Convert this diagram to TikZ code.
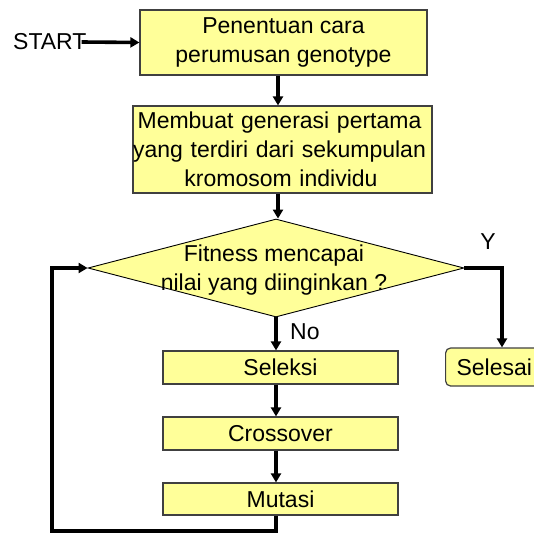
\documentclass[tikz,border=0pt]{standalone}
\usepackage{fontspec}
\setmainfont{Liberation Sans}
\usetikzlibrary{arrows.meta,shapes.geometric}
\definecolor{boxfill}{RGB}{255,255,153}
\begin{document}
\begin{tikzpicture}[x=1pt,y=-1pt,
  every node/.style={font=\fontsize{23}{29}\selectfont},
  box/.style={draw=black!75, line width=1.2pt, fill=boxfill, inner sep=0pt, align=center},
  arr/.style={line width=3.6pt, -{Triangle[length=9pt,width=10pt]}}]
\useasboundingbox (0,0) rectangle (534,532);
\coordinate (axis) at (278,0);
\coordinate (axisb) at (276,0);
\coordinate (yx) at (502,0);
\coordinate (loopb) at (52,531);
\node[box, minimum width=287pt, minimum height=65pt] (b1) at (283.5,42.5) {Penentuan cara\\perumusan genotype};
\node[box, minimum width=299pt, minimum height=87pt, text width=299pt] (b2) at (282.5,149.5) {\hspace*{-6pt}Membuat generasi pertama\\\hspace*{-6pt}yang terdiri dari sekumpulan\\\hspace*{-3pt}kromosom individu};
\node[draw=black, line width=0.9pt, fill=boxfill, diamond, inner sep=0pt, minimum width=376pt, minimum height=98pt] (dec) at (276,268) {};
\node[align=center, inner sep=0pt] (dect) at (274,270) {Fitness mencapai\\nilai yang diinginkan ?};
\node[box, minimum width=235pt, minimum height=33pt] (sel) at (280.5,367.5) {Seleksi};
\node[box, minimum width=235pt, minimum height=33pt] (cro) at (280.5,433.5) {Crossover};
\node[box, minimum width=235pt, minimum height=32pt] (mut) at (280.5,499) {Mutasi};
\node[box, rounded corners=5pt, anchor=west, minimum height=38pt, text width=90pt, inner xsep=11pt, align=left] (fin) at (445,367) {Selesai};
\node[inner sep=0pt, anchor=west] (start) at (13,42) {START};
\node[inner sep=0pt] (ylab) at (488,242) {Y};
\node[inner sep=0pt, anchor=west] (nolab) at (290,332) {No};
\draw[arr] (start.east) ++(-5,0) -- (b1.west);
\draw[arr] (b1.south -| axis) -- (b2.north -| axis);
\draw[arr] (b2.south -| axis) -- (dec.north -| axis);
\draw[arr] (dec.south -| axisb) -- (sel.north -| axisb);
\draw[arr] (sel.south -| axisb) -- (cro.north -| axisb);
\draw[arr] (cro.south -| axisb) -- (mut.north -| axisb);
\draw[arr] (dec.east) -- (dec.east -| yx) -- (fin.north -| yx);
\draw[arr] (mut.south -| axisb) -- (loopb -| axisb) -- (loopb) -- (loopb |- dec.west) -- (dec.west);
\end{tikzpicture}
\end{document}
